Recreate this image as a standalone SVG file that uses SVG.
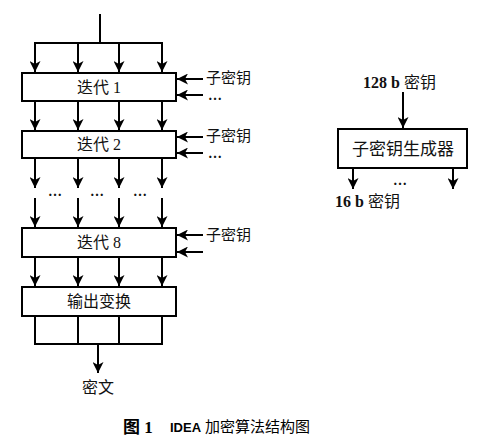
<svg xmlns="http://www.w3.org/2000/svg" width="483" height="447" viewBox="0 0 483 447">
<style>
.ln{stroke:#000;stroke-width:2;fill:none}
.ar{stroke:#000;stroke-width:2;fill:none;marker-end:url(#ah)}
.box{fill:#fff;stroke:#000;stroke-width:2}
.t{font-family:"Liberation Serif","Noto Sans CJK SC",serif;font-size:16px;fill:#111}
.lb{font-family:"Liberation Serif","Noto Sans CJK SC",serif;font-size:15px;fill:#111}
.d{font-family:"Liberation Serif",serif;font-size:14px;font-weight:bold;fill:#111}
</style>
<defs>
<marker id="ah" markerUnits="userSpaceOnUse" markerWidth="12" markerHeight="11" refX="11" refY="5.5" orient="auto">
<path d="M0,0 L11,5.5 L0,11 L3,5.5 z" fill="#000"/>
</marker>
</defs>
<g id="connectors">
<line class="ln" x1="100" y1="14" x2="100" y2="43"/>
<line class="ln" x1="34" y1="43" x2="163" y2="43"/>
<line class="ar" x1="35" y1="43" x2="35" y2="72"/>
<line class="ar" x1="78" y1="43" x2="78" y2="72"/>
<line class="ar" x1="119" y1="43" x2="119" y2="72"/>
<line class="ar" x1="162" y1="43" x2="162" y2="72"/>
<line class="ar" x1="35" y1="101" x2="35" y2="130"/>
<line class="ar" x1="78" y1="101" x2="78" y2="130"/>
<line class="ar" x1="119" y1="101" x2="119" y2="130"/>
<line class="ar" x1="162" y1="101" x2="162" y2="130"/>
<line class="ar" x1="35" y1="158" x2="35" y2="188"/>
<line class="ar" x1="78" y1="158" x2="78" y2="188"/>
<line class="ar" x1="119" y1="158" x2="119" y2="188"/>
<line class="ar" x1="162" y1="158" x2="162" y2="188"/>
<line class="ar" x1="35" y1="198" x2="35" y2="227"/>
<line class="ar" x1="78" y1="198" x2="78" y2="227"/>
<line class="ar" x1="119" y1="198" x2="119" y2="227"/>
<line class="ar" x1="162" y1="198" x2="162" y2="227"/>
<line class="ar" x1="35" y1="257" x2="35" y2="286"/>
<line class="ar" x1="78" y1="257" x2="78" y2="286"/>
<line class="ar" x1="119" y1="257" x2="119" y2="286"/>
<line class="ar" x1="162" y1="257" x2="162" y2="286"/>
<line class="ar" x1="203" y1="79" x2="177" y2="79"/>
<line class="ar" x1="203" y1="95" x2="177" y2="95"/>
<line class="ar" x1="203" y1="137" x2="177" y2="137"/>
<line class="ar" x1="203" y1="153" x2="177" y2="153"/>
<line class="ar" x1="203" y1="235" x2="177" y2="235"/>
<line class="ar" x1="203" y1="252" x2="177" y2="252"/>
<line class="ar" x1="98" y1="344" x2="98" y2="373"/>
<line class="ar" x1="403" y1="92" x2="403" y2="128"/>
<line class="ar" x1="353" y1="168" x2="353" y2="189"/>
<line class="ar" x1="453" y1="168" x2="453" y2="189"/>
</g>
<g id="iter1">
<rect class="box" x="22" y="73" width="154" height="28"/>
<text class="t" x="99" y="93" text-anchor="middle">迭代 1</text>
</g>
<g id="iter2">
<rect class="box" x="22" y="131" width="154" height="27"/>
<text class="t" x="99" y="150" text-anchor="middle">迭代 2</text>
</g>
<g id="iter8">
<rect class="box" x="22" y="228" width="154" height="29"/>
<text class="t" x="99" y="248" text-anchor="middle">迭代 8</text>
</g>
<g id="output">
<rect class="box" x="22" y="287" width="154" height="29"/>
<text class="t" x="99" y="307" text-anchor="middle">输出变换</text>
</g>
<g id="grid">
<rect class="box" x="35" y="316" width="127" height="28"/>
<line class="ln" x1="78" y1="316" x2="78" y2="344"/>
<line class="ln" x1="119" y1="316" x2="119" y2="344"/>
</g>
<g id="keygen">
<rect class="box" x="338" y="129" width="129" height="39"/>
<text class="t" x="403" y="155" text-anchor="middle" style="font-size:17px">子密钥生成器</text>
</g>
<g id="labels">
<text class="lb" x="206" y="83">子密钥</text>
<text class="d" x="208" y="100">…</text>
<text class="lb" x="206" y="141">子密钥</text>
<text class="d" x="208" y="158">…</text>
<text class="lb" x="206" y="240">子密钥</text>
<text class="d" x="55" y="196" text-anchor="middle">…</text>
<text class="d" x="97" y="196" text-anchor="middle">…</text>
<text class="d" x="140" y="196" text-anchor="middle">…</text>
<text class="t" x="98" y="393" text-anchor="middle">密文</text>
<text class="t" x="363" y="88"><tspan font-weight="bold">128 b</tspan> 密钥</text>
<text class="d" x="400" y="185" text-anchor="middle">…</text>
<text class="t" x="335" y="207"><tspan font-weight="bold">16 b</tspan> 密钥</text>
</g>
<g id="caption">
<text x="123" y="433" style="font-family:'Liberation Serif','Noto Sans CJK SC',serif;font-size:17px;font-weight:bold">图 1</text>
<text x="170" y="432" style="font-family:'Liberation Sans',sans-serif;font-size:13px;font-weight:bold">IDEA</text>
<text x="205" y="432" style="font-family:'Noto Sans CJK SC',sans-serif;font-size:15px">加密算法结构图</text>
</g>
</svg>
